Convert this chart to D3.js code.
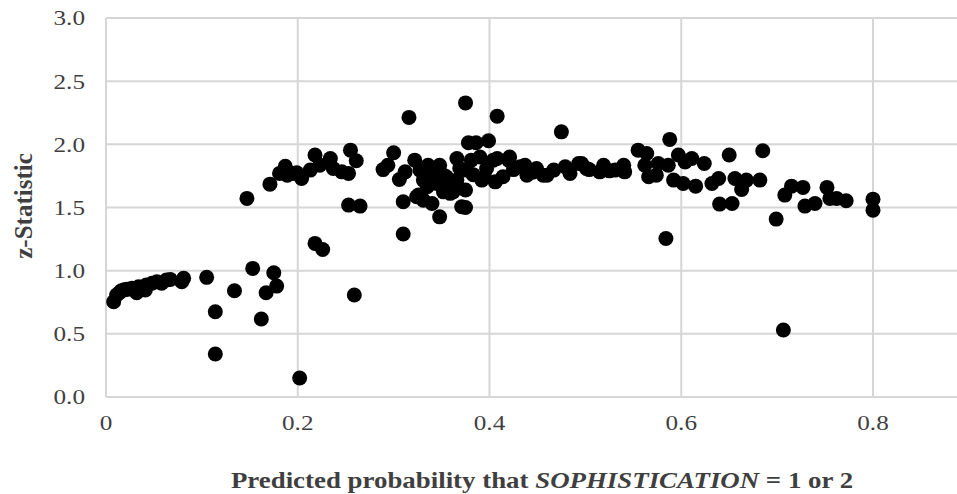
<!DOCTYPE html>
<html>
<head>
<meta charset="utf-8">
<script src="https://cdn.jsdelivr.net/npm/d3@7"></script>
<style>
  html, body { margin: 0; padding: 0; background: #fff; }
  svg { display: block; }
</style>
</head>
<body>
<svg id="chart" width="957" height="494"></svg>
<script>
// Predicted probability that SOPHISTICATION = 1 or 2 (x) and z-statistic (y)
const probability = [
  0.008,0.011,0.014,0.016,0.019,0.022,0.027,0.032,0.034,0.038,0.041,0.042,0.048,0.053,0.058,0.063,0.067,0.079,0.081,
  0.105,0.114,0.114,0.134,0.153,0.162,0.167,0.175,0.178,0.202,
  0.147,0.171,0.181,0.187,0.189,0.195,0.199,0.204,0.213,0.218,0.223,0.234,0.237,0.246,0.253,0.255,0.261,0.253,0.265,0.218,0.226,0.259,
  0.289,0.294,0.300,0.306,0.310,0.310,0.312,0.316,0.322,0.3275,0.326,0.331,0.331,0.335,0.336,0.340,0.340,0.341,0.348,0.348,
  0.352,0.355,0.359,0.366,0.366,0.369,0.371,0.375,0.375,0.375,0.376,0.378,0.381,0.386,0.390,0.392,0.397,0.399,0.406,0.408,
  0.408,0.414,0.420,0.421,0.432,0.437,0.439,0.449,0.456,0.460,0.467,0.475,0.479,0.484,0.493,0.496,0.501,0.504,0.515,0.519,
  0.525,0.531,0.540,0.541,
  0.324,0.362,0.352,0.404,0.345,0.360,0.383,0.395,0.425,0.445,
  0.555,0.564,0.562,0.566,0.574,0.576,0.584,0.5865,0.588,0.592,0.597,0.602,0.604,0.611,0.615,0.624,0.632,0.639,0.640,0.650,
  0.653,0.656,0.663,0.668,0.682,0.685,0.699,0.7065,0.708,0.715,0.727,0.729,0.7395,0.752,0.755,0.762,0.772,0.800,0.800
];
const zStatistic = [
  0.754,0.807,0.825,0.841,0.848,0.852,0.860,0.825,0.873,0.865,0.847,0.886,0.900,0.912,0.900,0.926,0.931,0.912,0.939,
  0.947,0.675,0.340,0.841,1.018,0.617,0.825,0.984,0.878,0.150,
  1.572,1.685,1.770,1.827,1.756,1.770,1.775,1.730,1.796,1.915,1.835,1.888,1.809,1.782,1.770,1.954,1.870,1.519,1.511,1.216,1.168,0.807,
  1.800,1.835,1.933,1.722,1.290,1.545,1.782,2.213,1.875,1.796,1.598,1.717,1.558,1.664,1.835,1.532,1.717,1.796,1.835,1.426,
  1.624,1.743,1.612,1.888,1.717,1.809,1.506,1.500,1.638,2.328,1.796,2.012,1.875,2.012,1.900,1.717,1.809,2.028,1.703,1.888,
  2.223,1.743,1.875,1.900,1.822,1.835,1.756,1.809,1.756,1.756,1.796,2.099,1.822,1.770,1.848,1.848,1.809,1.800,1.782,1.835,
  1.790,1.796,1.835,1.782,
  1.585,1.624,1.756,1.875,1.690,1.680,1.760,1.740,1.800,1.780,
  1.954,1.927,1.835,1.743,1.756,1.848,1.255,1.835,2.039,1.717,1.915,1.690,1.861,1.888,1.669,1.848,1.690,1.730,1.527,1.915,
  1.532,1.730,1.643,1.717,1.717,1.949,1.408,0.530,1.598,1.669,1.659,1.511,1.532,1.659,1.572,1.572,1.553,1.566,1.479
];
const xTicks = [0, 0.2, 0.4, 0.6, 0.8];
const xTickLabels = ["0", "0.2", "0.4", "0.6", "0.8"];
const yTicks = [0, 0.5, 1.0, 1.5, 2.0, 2.5, 3.0];
const xTitleParts = [
  { text: "Predicted probability that ", italic: false },
  { text: "SOPHISTICATION", italic: true },
  { text: " = 1 or 2", italic: false }
];
const yTitle = "z-Statistic";

const svg = d3.select("#chart");
const plotLeft = 106, plotTop = 18, plotBottom = 397;
const x = d3.scaleLinear().domain([0, 0.9]).range([plotLeft, plotLeft + 0.9 * 958.75]);
const y = d3.scaleLinear().domain([0, 3]).range([plotBottom, plotTop]);

const gridColor = "#d6d6d6";
const textColor = "#3f3f3f";
const font = "'Liberation Serif', 'Times New Roman', serif";
const stretch = 1.2;

// horizontal gridlines
svg.append("g").selectAll("line").data(yTicks).join("line")
  .attr("x1", plotLeft).attr("x2", 957)
  .attr("y1", d => y(d)).attr("y2", d => y(d))
  .attr("stroke", gridColor).attr("stroke-width", 2);

// vertical gridlines (including axis at 0)
svg.append("g").selectAll("line").data(xTicks).join("line")
  .attr("x1", d => x(d)).attr("x2", d => x(d))
  .attr("y1", plotTop).attr("y2", plotBottom)
  .attr("stroke", gridColor).attr("stroke-width", 2);

// y tick labels
svg.append("g").selectAll("text").data(yTicks).join("text")
  .attr("transform", d => `translate(85,${y(d)}) scale(${stretch},1)`)
  .attr("dy", "0.35em")
  .attr("text-anchor", "end")
  .attr("font-family", font).attr("font-size", 21)
  .attr("fill", textColor)
  .text(d => d3.format(".1f")(d));

// x tick labels
svg.append("g").selectAll("text").data(xTicks).join("text")
  .attr("transform", d => `translate(${x(d)},430) scale(${stretch},1)`)
  .attr("text-anchor", "middle")
  .attr("font-family", font).attr("font-size", 21)
  .attr("fill", textColor)
  .text((d, i) => xTickLabels[i]);

// points
svg.append("g").selectAll("circle").data(probability.map((p, i) => [p, zStatistic[i]])).join("circle")
  .attr("cx", d => x(d[0])).attr("cy", d => y(d[1]))
  .attr("r", 7.5).attr("fill", "#000");

// y title
svg.append("text")
  .attr("transform", "translate(32,206) rotate(-90)")
  .attr("text-anchor", "middle")
  .attr("font-family", font).attr("font-size", 25).attr("font-weight", "bold")
  .attr("fill", textColor)
  .text(yTitle);

// x title
const xt = svg.append("text")
  .attr("transform", `translate(542,488) scale(1.12,1)`)
  .attr("text-anchor", "middle")
  .attr("font-family", font).attr("font-size", 24).attr("font-weight", "bold")
  .attr("fill", textColor);
xt.selectAll("tspan").data(xTitleParts).join("tspan")
  .attr("font-style", d => d.italic ? "italic" : "normal")
  .text(d => d.text);
</script>
</body>
</html>
